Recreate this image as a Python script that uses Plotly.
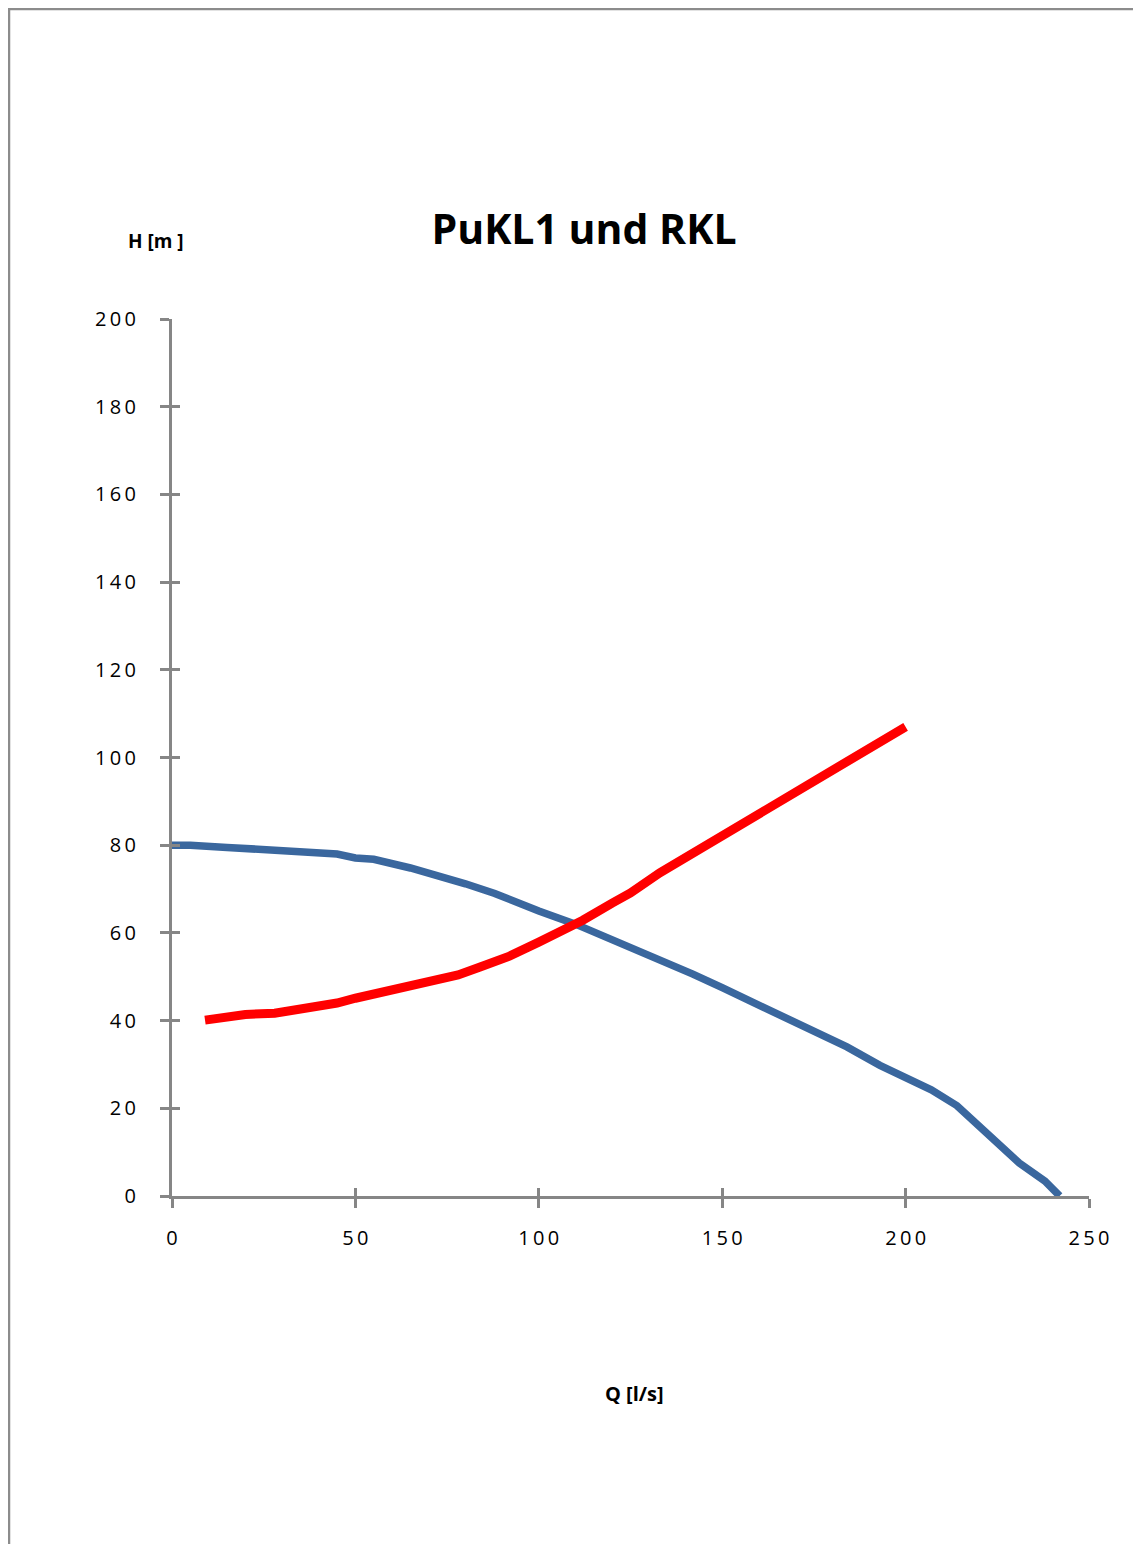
import plotly.graph_objects as go

# Pump curve PuKL1 (blue)
pump_q = [0, 5, 15, 25, 32, 45, 50, 55, 65, 75, 80, 88, 92, 100, 110, 120, 125, 135,
          142, 150, 155, 165, 175, 184, 193, 200, 207, 214, 222, 231, 238, 242]
pump_h = [80, 80, 79.5, 78.9, 78.9, 78, 77.1, 76.8, 74.8, 72.5, 71.2, 69, 67.6, 65, 62,
          58.5, 56.9, 53.2, 50.6, 47.5, 45.5, 41.6, 37.8, 34, 29.8, 27.2, 24.2, 20.6,
          14.6, 7.5, 3.4, 0]

# System curve RKL (red)
rkl_q = [9, 20, 28, 33, 40, 45, 50, 55, 65, 72, 78, 84, 92, 100, 106, 112, 120, 125,
         133, 145, 160, 172, 186, 200]
rkl_h = [40.1, 41.4, 41.7, 42.3, 43.4, 44, 45.1, 46, 47.8, 49.3, 50.4, 52.2, 54.7, 57.9,
         60.2, 62.9, 66.8, 69.1, 73.7, 79.6, 87.2, 93.2, 100.1, 107]

x_ticks = [0, 50, 100, 150, 200, 250]
y_ticks = [0, 20, 40, 60, 80, 100, 120, 140, 160, 180, 200]

title_text = "PuKL1 und RKL"
x_title = "Q [l/s]"
y_title = "H [m ]"

FONT = "Open Sans"
AX = "#868686"
OFF = 8  # default page margin of the html body


def spaced(v):
    return "\u2009".join(str(v))


fig = go.Figure()
fig.add_trace(go.Scatter(x=pump_q, y=pump_h, mode="lines", name="PuKL1",
                         line=dict(color="#3A679E", width=7.5), xaxis="x", yaxis="y"))
fig.add_trace(go.Scatter(x=rkl_q, y=rkl_h, mode="lines", name="RKL",
                         line=dict(color="#FF0000", width=9), xaxis="x2", yaxis="y2"))

axis_common = dict(showgrid=False, zeroline=False, showline=True, linecolor=AX,
                   linewidth=3, tickcolor=AX, tickwidth=3, ticklen=9)

fig.update_layout(
    width=1141, height=1544,
    paper_bgcolor="white", plot_bgcolor="white",
    showlegend=False,
    margin=dict(l=172 - OFF, r=52 + OFF, t=319 - OFF, b=348 + OFF),
    title=dict(text=title_text, x=(584 - OFF) / 1141, xanchor="center",
               y=1 - (230 - OFF) / 1544, yanchor="middle",
               font=dict(family=FONT, size=41, color="black", weight="bold")),
    xaxis=dict(range=[0, 250], tickvals=x_ticks, ticktext=[spaced(v) for v in x_ticks],
               ticks="outside", ticklabelstandoff=13,
               tickfont=dict(family=FONT, size=20, color="black"), **axis_common),
    yaxis=dict(range=[0, 200], tickvals=y_ticks, ticktext=[spaced(v) for v in y_ticks],
               ticks="outside", ticklabelstandoff=20,
               tickfont=dict(family=FONT, size=20, color="black"), **axis_common),
    xaxis2=dict(range=[0, 250], tickvals=x_ticks, ticks="inside", overlaying="x",
                anchor="y2", showticklabels=False, showgrid=False, zeroline=False,
                showline=False, tickcolor=AX, tickwidth=3, ticklen=8),
    yaxis2=dict(range=[0, 200], tickvals=y_ticks, ticks="inside", overlaying="y",
                anchor="x2", showticklabels=False, showgrid=False, zeroline=False,
                showline=False, tickcolor=AX, tickwidth=3, ticklen=8),
    annotations=[
        dict(text=y_title, xref="paper", yref="paper",
             x=(156 - 172) / 917, y=(1196 - 241) / 877, xanchor="center",
             yanchor="middle", showarrow=False,
             font=dict(family=FONT, size=19, color="black", weight="bold")),
        dict(text=x_title, xref="paper", yref="paper",
             x=(634 - 172) / 917, y=(1196 - 1393) / 877, xanchor="center",
             yanchor="middle", showarrow=False,
             font=dict(family=FONT, size=20, color="black", weight="bold")),
    ],
    shapes=[
        dict(type="rect", xref="paper", yref="paper",
             x0=(9 - 172) / 917, x1=(1160 - 172) / 917,
             y0=(1196 - 1570) / 877, y1=(1196 - 9) / 877,
             line=dict(color="#8C8C8C", width=2.5), fillcolor="rgba(0,0,0,0)",
             layer="below"),
    ],
)

fig.write_html("out.html")
